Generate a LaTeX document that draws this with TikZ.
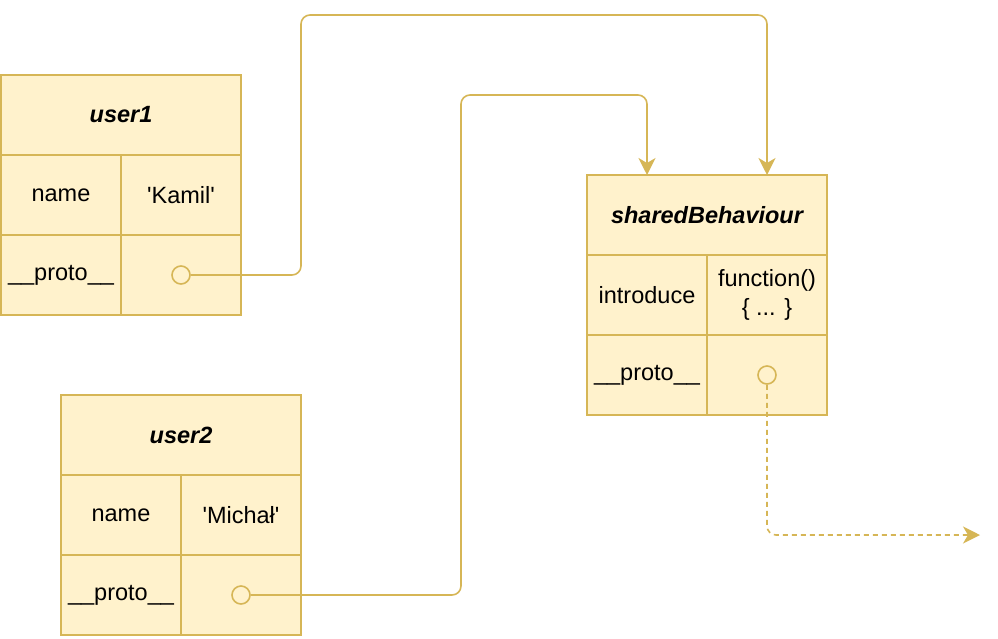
\documentclass[tikz,border=0pt]{standalone}
\usepackage{fontspec}
\setmainfont{Liberation Sans}
\usetikzlibrary{arrows.meta, positioning, calc}
\definecolor{ObjFill}{HTML}{FFF2CC}
\definecolor{ObjLine}{HTML}{D6B656}
\newcommand{\squote}{\textquotesingle}

\begin{document}
\begin{tikzpicture}[x=1pt, y=-1pt,
    cell/.style={draw=ObjLine, fill=ObjFill, line width=1.6pt, outer sep=0pt, inner sep=0pt,
        minimum width=120pt, minimum height=80pt, align=center, font=\fontsize{23.5}{29}\selectfont},
    head/.style={cell, minimum width=240pt, font=\fontsize{23.5}{29}\selectfont\bfseries\itshape},
    ref/.style={draw=ObjLine, line width=1.6pt, circle, minimum size=18pt, inner sep=0pt},
    link/.style={draw=ObjLine, line width=1.6pt, rounded corners=9pt,
        -{Stealth[length=17pt, width=17pt, inset=5pt]}}]
    \useasboundingbox (0,0) rectangle (998,638);

    % user1 object
    \node[head] (u1) at (121,115) {user1};
    \node[cell, anchor=north west] (u1k) at (u1.south west) {name};
    \node[cell, right=0pt of u1k] (u1v) {\squote Kamil\squote};
    \node[cell, below=0pt of u1k] (u1p) {\_\_proto\_\_};
    \node[cell, right=0pt of u1p] (u1r) {};
    \node[ref] (c1) at (u1r) {};

    % user2 object
    \node[head] (u2) at (181,435) {user2};
    \node[cell, anchor=north west] (u2k) at (u2.south west) {name};
    \node[cell, right=0pt of u2k] (u2v) {\squote Michał\squote};
    \node[cell, below=0pt of u2k] (u2p) {\_\_proto\_\_};
    \node[cell, right=0pt of u2p] (u2r) {};
    \node[ref] (c2) at (u2r) {};

    % shared prototype
    \node[head] (sb) at (707,215) {sharedBehaviour};
    \node[cell, anchor=north west] (sbk) at (sb.south west) {introduce};
    \node[cell, right=0pt of sbk] (sbv) {function()\\\{ ... \}};
    \node[cell, below=0pt of sbk] (sbp) {\_\_proto\_\_};
    \node[cell, right=0pt of sbp] (sbr) {};
    \node[ref] (c3) at (sbr) {};

    % bends of the links
    \coordinate (bend1) at (301,15);
    \coordinate (bend2) at (461,95);
    \coordinate (next) at (980,535);

    % __proto__ links
    \draw[link] (c1.east) -| (bend1) -| (sbv |- sb.north);
    \draw[link] (c2.east) -| (bend2) -| (sbk |- sb.north);
    \draw[link, dash pattern=on 5pt off 4pt] (c3.south) |- (next);
\end{tikzpicture}
\end{document}
